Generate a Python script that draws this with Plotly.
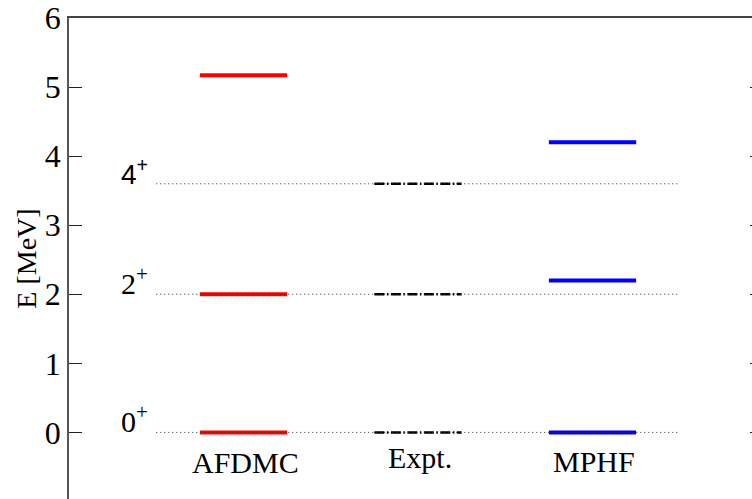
import plotly.graph_objects as go

# Level energies (MeV) for each column
methods = ["AFDMC", "Expt.", "MPHF"]
afdmc_levels = [0.0, 2.0, 5.17]
expt_levels = [0.0, 2.0, 3.6]
mphf_levels = [0.0, 2.2, 4.2]
spins = ["0", "2", "4"]
yticks = [0, 1, 2, 3, 4, 5, 6]

col_pos = {m: i + 1 for i, m in enumerate(methods)}
half_w = 0.25
serif = "Liberation Serif, Times New Roman, serif"


def segments(center, levels):
    xs, ys = [], []
    for e in levels:
        xs += [center - half_w, center + half_w, None]
        ys += [e, e, None]
    return xs, ys


fig = go.Figure()

styles = {
    "AFDMC": (afdmc_levels, dict(color="#ff0000", width=4)),
    "Expt.": (expt_levels, dict(color="#000000", width=2.5, dash="10px,2.5px,1.5px,2.5px")),
    "MPHF": (mphf_levels, dict(color="#0000ff", width=4)),
}
for name in methods:
    lv, line = styles[name]
    xs, ys = segments(col_pos[name], lv)
    fig.add_trace(go.Scatter(x=xs, y=ys, mode="lines", line=line,
                             hoverinfo="skip", showlegend=False))

# dotted guide lines at the experimental levels, drawn across all columns
gx, gy = [], []
for e in expt_levels:
    gx += [0.5, 3.5, None]
    gy += [e, e, None]
fig.add_trace(go.Scatter(x=gx, y=gy, mode="lines",
                         line=dict(color="#333333", width=1, dash="1px,3px"),
                         hoverinfo="skip", showlegend=False))

# invisible trace to carry the right-hand tick marks
fig.add_trace(go.Scatter(x=[None], y=[None], yaxis="y2", showlegend=False))

annotations = []
for s, e in zip(spins, expt_levels):
    fam = "Liberation Sans, Arial, sans-serif" if s == "4" else serif
    annotations.append(dict(
        x=0.465, y=e, xref="x", yref="y", xanchor="right", yanchor="bottom",
        text=f"{s}<sup>+</sup>", showarrow=False, yshift=-8,
        font=dict(family=fam, size=30 if s != "4" else 28, color="black")))

label_y = {"AFDMC": -0.43, "Expt.": -0.36, "MPHF": -0.42}
for name in methods:
    annotations.append(dict(
        x=col_pos[name] + 0.01, y=label_y[name], xref="x", yref="y",
        xanchor="center", yanchor="middle", text=name, showarrow=False,
        font=dict(family=serif, size=30, color="black")))

fig.update_layout(
    width=752, height=499,
    margin=dict(l=69, r=0, t=15, b=0),
    paper_bgcolor="white", plot_bgcolor="white",
    showlegend=False,
    annotations=annotations,
    xaxis=dict(range=[0, 3.914], side="top", showline=True, linecolor="#444444",
               linewidth=2, showgrid=False, zeroline=False, ticks="",
               showticklabels=False, fixedrange=True),
    yaxis=dict(range=[-0.964, 6], tickvals=yticks, ticks="inside", ticklen=13,
               tickwidth=1.2, tickcolor="#222222", showline=True, linecolor="#555555",
               linewidth=1.5, showgrid=False, zeroline=False,
               ticklabeloverflow="allow",
               tickfont=dict(family=serif, size=32, color="black"),
               title=dict(text="E [MeV]", font=dict(family=serif, size=28, color="black"),
                          standoff=0)),
    yaxis2=dict(range=[-0.964, 6], overlaying="y", side="right", anchor="free",
                position=1.0, tickvals=yticks, ticks="inside", ticklen=2,
                tickcolor="#222222", showticklabels=False, showline=False,
                showgrid=False, zeroline=False),
)

fig.write_html("out.html")
